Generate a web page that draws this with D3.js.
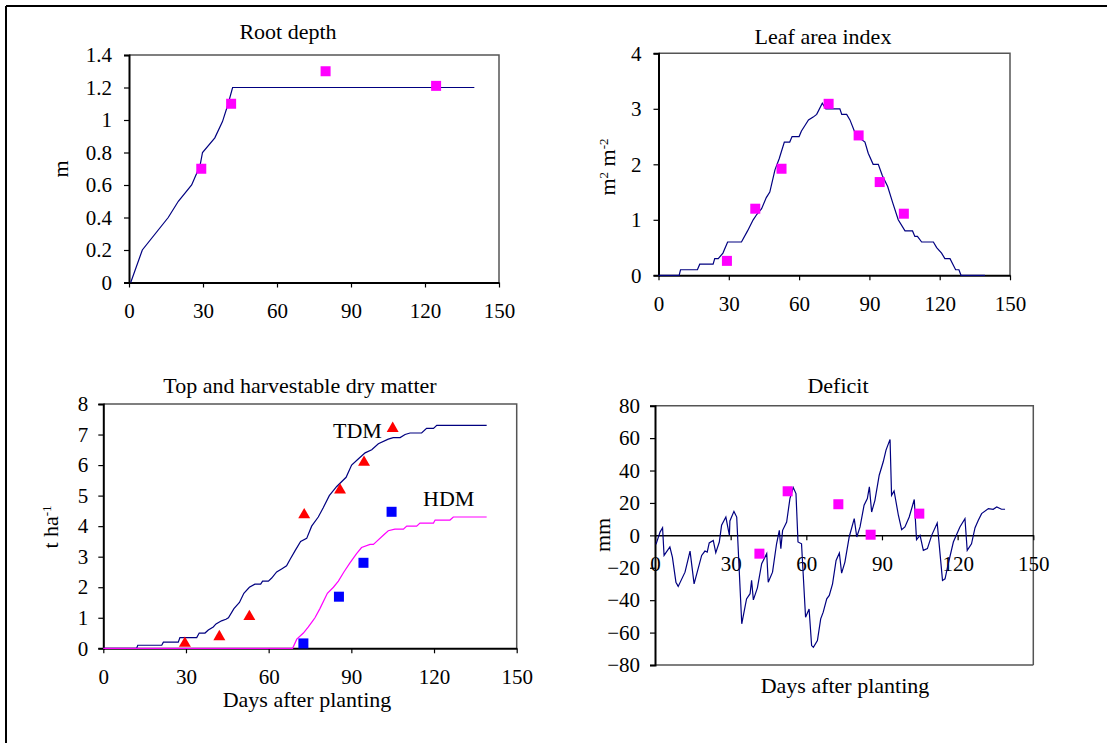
<!DOCTYPE html>
<html><head><meta charset="utf-8">
<script src="https://cdn.jsdelivr.net/npm/d3@7/dist/d3.min.js"></script>
<style>
html,body{margin:0;padding:0;background:#fff;}
svg{display:block;}
text{font-family:"Liberation Serif","Times New Roman",serif;fill:#000;}
</style></head>
<body>
<svg id="chart" width="1107" height="743"></svg>
<script>
// ---------- DATA ----------
const xTicks = [0, 30, 60, 90, 120, 150];

// Root depth (m)
const rootSimDays = [0.7, 5.4, 15.9, 20, 25.4, 28.8, 29.8, 34.8, 37.9, 40.2, 42, 140];
const rootSimVals = [0, 0.2, 0.4, 0.5, 0.6, 0.72, 0.8, 0.89, 0.99, 1.1, 1.2, 1.2];
const rootObsDays = [29.3, 41.4, 79.7, 124.5];
const rootObsVals = [0.70, 1.10, 1.30, 1.21];
const rootYTicks = [0, 0.2, 0.4, 0.6, 0.8, 1, 1.2, 1.4];

// Leaf area index (m2 m-2)
const laiSimDays = [0, 8.8, 9.4, 16.6, 17.6, 23.3, 24, 25.5, 27.5, 29.5, 35.4, 38, 40.4, 42, 44, 46, 47.5, 49.7, 51.5, 53.7, 56, 57, 60, 61, 62.5, 64, 66, 67.5, 69.9, 71.4, 77.4, 78.2, 80.3, 81.7, 84.5, 86.5, 88.1, 89.5, 91.6, 93.8, 95.5, 97.8, 100, 102.3, 105.2, 108.4, 109.4, 110.5, 112.3, 117.3, 118.7, 120.8, 122.2, 124.4, 126.8, 128.2, 129.1, 139.3];
const laiSimVals = [0, 0, 0.1, 0.1, 0.2, 0.2, 0.3, 0.3, 0.4, 0.6, 0.6, 0.8, 1.0, 1.1, 1.2, 1.4, 1.5, 1.9, 2.1, 2.4, 2.4, 2.5, 2.5, 2.6, 2.7, 2.8, 2.85, 2.9, 3.1, 3.0, 3.0, 2.9, 2.9, 2.8, 2.5, 2.45, 2.4, 2.2, 2.0, 2.0, 1.8, 1.6, 1.3, 1.0, 0.8, 0.8, 0.7, 0.7, 0.6, 0.6, 0.5, 0.4, 0.3, 0.3, 0.1, 0.1, 0, 0];
const laiObsDays = [29.2, 41.3, 52.5, 72.6, 85.4, 94.4, 104.7];
const laiObsVals = [0.26, 1.2, 1.92, 3.09, 2.52, 1.68, 1.11];
const laiYTicks = [0, 1, 2, 3, 4];

// Top (TDM) and harvestable (HDM) dry matter (t ha-1)
const tdmSimDays = [0, 12.1, 12.5, 21.2, 21.8, 27.2, 27.8, 33.9, 34.8, 36.9, 38.1, 39.9, 40.9, 42.9, 44.5, 45.4, 47.4, 49.4, 51, 53, 55, 57.1, 57.8, 59.9, 61.1, 62.9, 64.7, 66.5, 67.7, 69.6, 71.6, 73.8, 75.6, 78, 79.8, 82, 84.7, 88.1, 90.1, 92.5, 95, 97.4, 99.8, 103.4, 105.2, 107.7, 109.5, 111.3, 115.5, 117.3, 119.8, 121, 139.1];
const tdmSimVals = [0, 0, 0.1, 0.1, 0.2, 0.2, 0.35, 0.35, 0.5, 0.5, 0.6, 0.7, 0.8, 0.9, 0.95, 1.0, 1.3, 1.5, 1.8, 2.0, 2.1, 2.1, 2.2, 2.2, 2.3, 2.5, 2.6, 2.7, 2.9, 3.2, 3.5, 3.6, 4.0, 4.3, 4.6, 5.0, 5.3, 5.6, 6.0, 6.2, 6.4, 6.5, 6.7, 6.85, 6.9, 6.9, 7.0, 7.05, 7.05, 7.2, 7.2, 7.3, 7.3];
const hdmSimDays = [0, 68.7, 70.2, 72.6, 74.4, 76, 76.8, 78.6, 81.3, 83.5, 85.3, 87.3, 89.5, 91.9, 93.7, 96.8, 98, 99.2, 101.6, 103.4, 105.8, 108.9, 110.1, 113.7, 114.9, 119.8, 120.4, 125.8, 127, 139.1];
const hdmSimVals = [0, 0, 0.3, 0.5, 0.7, 0.9, 1.0, 1.3, 1.8, 2.0, 2.2, 2.5, 2.8, 3.1, 3.3, 3.4, 3.4, 3.5, 3.7, 3.85, 3.9, 3.9, 4.0, 4.0, 4.1, 4.1, 4.2, 4.2, 4.3, 4.3];
const tdmObsDays = [29.6, 42.1, 53, 72.9, 85.9, 94.6, 105];
const tdmObsVals = [0.16, 0.38, 1.04, 4.37, 5.18, 6.09, 7.2];
const hdmObsDays = [72.6, 85.5, 94.4, 104.6];
const hdmObsVals = [0.16, 1.69, 2.8, 4.47];
const dmYTicks = [0, 1, 2, 3, 4, 5, 6, 7, 8];

// Deficit (mm)
const defSimDays = [0.4, 2, 3, 3.6, 5.9, 6.9, 8.3, 9.2, 11.9, 13.9, 15.5, 18.5, 19.8, 20.7, 21.5, 23.1, 24.1, 25.5, 26.4, 28.1, 29.5, 29.7, 31.3, 32.4, 34.4, 36.3, 37.7, 38.3, 39, 40.6, 42.3, 44.3, 44.9, 46.6, 48.2, 49.3, 49.9, 50.6, 52.2, 53.5, 54.8, 55.9, 56.7, 58.1, 59.7, 61.1, 62.1, 62.8, 64.4, 65.7, 66.7, 68.1, 69.1, 70.4, 71.8, 73.1, 74, 75.3, 77, 79, 80, 81.3, 82.9, 84.2, 85, 85.9, 87.2, 88.9, 90.5, 91.6, 93.2, 93.8, 94.8, 96.5, 97.8, 99.1, 100.8, 102.8, 103.7, 105.1, 106.4, 108, 109.7, 111.9, 114, 115, 116.3, 118.3, 120.9, 122.9, 123.8, 125.5, 126.9, 128.2, 129.5, 132.2, 134.1, 135.5, 137.4, 138.8];
const defSimVals = [-5.6, 2, 4.7, -12.4, -7.2, -13.4, -28.9, -31.5, -22.7, -9.7, -29.9, -12.4, -9.7, -10.3, -4.7, -3.1, -10.7, -4.1, 6.2, 11.3, 0, 8.9, 14.8, 11.3, -54.6, -39.2, -36, -27.8, -39.8, -32.4, -17.5, -11.3, -28.9, -22.7, -5.2, 3.1, -8.2, 3.1, 8.2, 22.7, 29.5, 25.8, -4.1, -5.2, -50.5, -45.4, -68, -69.1, -64.9, -51.5, -47.4, -39.2, -37.1, -29.9, -15.5, -10.9, -23.3, -16.5, -1, 10.3, -1, 5.2, 18.6, 22.7, 29.9, 14.4, 21.6, 37.1, 45.4, 52.6, 59.2, 24.7, 27.4, 12.4, 3.5, 5.2, 11.3, 22.1, -2.7, 0, -9.3, -8.2, 0, 7.6, -27.8, -26.8, -17.5, -4.1, 5.2, 10.3, -9.3, -5.2, 4.7, 9.3, 13.4, 16.5, 16.1, 17.5, 16.1, 16.1];
const defObsDays = [41.4, 52.6, 72.7, 85.5, 104.8];
const defObsVals = [-11.3, 27.2, 19.2, 0.4, 13.4];
const defYTicks = [-80, -60, -40, -20, 0, 20, 40, 60, 80];

// ---------- DRAWING ----------
const svg = d3.select("#chart");
const FONT = "'Liberation Serif', 'Times New Roman', Times, serif";
const FS = 21;   // tick labels
const FT = 22;   // titles and axis labels
const NAVY = "#000080", MAG = "#FF00FF", RED = "#FF0000", BLUE = "#0000FF";

// outer frame (left and top edges visible)
svg.append("line").attr("x1", 6).attr("y1", 6).attr("x2", 1107).attr("y2", 6).attr("stroke", "#000").attr("stroke-width", 2);
svg.append("line").attr("x1", 6).attr("y1", 6).attr("x2", 6).attr("y2", 743).attr("stroke", "#000").attr("stroke-width", 2);

function zip(a, b) { return a.map((d, i) => [d, b[i]]); }

function panel(cfg) {
  const x = d3.scaleLinear().domain([0, 150]).range([cfg.x0, cfg.x1]);
  const y = d3.scaleLinear().domain(cfg.yDomain).range([cfg.y0, cfg.y1]);
  const g = svg.append("g");
  // plot-area border (top & right)
  g.append("path")
    .attr("d", `M${cfg.x0},${cfg.y1}H${cfg.x1}V${cfg.y0}`)
    .attr("fill", "none").attr("stroke", "#555").attr("stroke-width", 1.5);
  if (cfg.bottomBorder) {
    g.append("line").attr("x1", cfg.x0).attr("x2", cfg.x1).attr("y1", cfg.y0).attr("y2", cfg.y0)
      .attr("stroke", "#555").attr("stroke-width", 1.5);
  }
  // y axis
  const ya = g.append("g").attr("transform", `translate(${cfg.x0},0)`)
    .call(d3.axisLeft(y).tickValues(cfg.yTicks).tickSize(5).tickPadding(cfg.yPad).tickFormat(d3.format("~g")));
  ya.attr("font-family", FONT).attr("font-size", FS);
  ya.select(".domain").attr("stroke", "#000").attr("stroke-width", 2);
  ya.selectAll(".tick line").attr("stroke", "#000").attr("stroke-width", 1.2);
  // x axis
  const xAxisY = y(cfg.xAxisAt);
  const xa = g.append("g").attr("transform", `translate(0,${xAxisY})`)
    .call(d3.axisBottom(x).tickValues(xTicks).tickSize(5).tickPadding(16).tickSizeOuter(0));
  xa.attr("font-family", FONT).attr("font-size", FS);
  xa.select(".domain").attr("stroke", "#000").attr("stroke-width", cfg.xAxisW || 2);
  xa.selectAll(".tick line").attr("stroke", "#000").attr("stroke-width", 1.2);
  // title
  svg.append("text").attr("x", cfg.titleX).attr("y", cfg.titleY).attr("text-anchor", "middle")
    .attr("font-size", FT).text(cfg.title);
  return { x, y, g };
}

const line = (p) => d3.line().x(d => p.x(d[0])).y(d => p.y(d[1]));

function squares(p, days, vals, color, size) {
  p.g.selectAll(null).data(zip(days, vals)).enter().append("rect")
    .attr("x", d => p.x(d[0]) - size / 2).attr("y", d => p.y(d[1]) - size / 2)
    .attr("width", size).attr("height", size).attr("fill", color);
}
function triangles(p, days, vals, color) {
  const sym = d3.symbol().type(d3.symbolTriangle).size(62);
  p.g.selectAll(null).data(zip(days, vals)).enter().append("path")
    .attr("d", sym).attr("transform", d => `translate(${p.x(d[0])},${p.y(d[1])})`).attr("fill", color);
}
function ylabel(x, y, parts) {
  const t = svg.append("text").attr("transform", `translate(${x},${y}) rotate(-90)`)
    .attr("text-anchor", "middle").attr("font-size", FT);
  parts.forEach(p => {
    const ts = t.append("tspan").text(p.t);
    if (p.sup) ts.attr("font-size", 13).attr("baseline-shift", "super");
  });
}

// Panel A: Root depth
const pA = panel({ x0: 129, x1: 499, y0: 282.5, y1: 55, yDomain: [0, 1.4], yTicks: rootYTicks, yPad: 12, xAxisAt: 0,
  title: "Root depth", titleX: 288, titleY: 39 });
pA.g.append("path").datum(zip(rootSimDays, rootSimVals)).attr("d", line(pA)).attr("fill", "none").attr("stroke", NAVY).attr("stroke-width", 1.2);
squares(pA, rootObsDays, rootObsVals, MAG, 10);
ylabel(68, 169, [{ t: "m" }]);

// Panel B: Leaf area index
const pB = panel({ x0: 658.5, x1: 1010, y0: 275.3, y1: 53.3, yDomain: [0, 4], yTicks: laiYTicks, yPad: 12, xAxisAt: 0,
  title: "Leaf area index", titleX: 823, titleY: 44 });
pB.g.append("path").datum(zip(laiSimDays, laiSimVals)).attr("d", line(pB)).attr("fill", "none").attr("stroke", NAVY).attr("stroke-width", 1.2);
squares(pB, laiObsDays, laiObsVals, MAG, 10);
ylabel(615, 167, [{ t: "m" }, { t: "2", sup: true }, { t: " m" }, { t: "-2", sup: true }]);

// Panel C: Dry matter
const pC = panel({ x0: 103.3, x1: 516.7, y0: 648.3, y1: 404, yDomain: [0, 8], yTicks: dmYTicks, yPad: 10, xAxisAt: 0,
  title: "Top and harvestable dry matter", titleX: 300, titleY: 393 });
pC.g.append("path").datum(zip(tdmSimDays, tdmSimVals)).attr("d", line(pC)).attr("fill", "none").attr("stroke", NAVY).attr("stroke-width", 1.2);
pC.g.append("path").datum(zip(hdmSimDays, hdmSimVals)).attr("d", line(pC)).attr("fill", "none").attr("stroke", MAG).attr("stroke-width", 1.2);
triangles(pC, tdmObsDays, tdmObsVals, RED);
squares(pC, hdmObsDays, hdmObsVals, BLUE, 10);
svg.append("text").attr("x", 333).attr("y", 438).attr("font-size", FT).text("TDM");
svg.append("text").attr("x", 423).attr("y", 506).attr("font-size", FT).text("HDM");
svg.append("text").attr("x", 307).attr("y", 707).attr("text-anchor", "middle").attr("font-size", FT).text("Days after planting");
ylabel(58, 527, [{ t: "t ha" }, { t: "-1", sup: true }]);

// Panel D: Deficit
const pD = panel({ x0: 655, x1: 1033.3, y0: 665, y1: 405.7, yDomain: [-80, 80], yTicks: defYTicks, yPad: 10, xAxisAt: 0, xAxisW: 1.5,
  bottomBorder: true, title: "Deficit", titleX: 838, titleY: 393 });
pD.g.append("path").datum(zip(defSimDays, defSimVals)).attr("d", line(pD)).attr("fill", "none").attr("stroke", NAVY).attr("stroke-width", 1.2);
squares(pD, defObsDays, defObsVals, MAG, 10);
svg.append("text").attr("x", 845).attr("y", 693).attr("text-anchor", "middle").attr("font-size", FT).text("Days after planting");
ylabel(610, 535, [{ t: "mm" }]);

// ensure serif font on all texts
svg.selectAll("text").attr("font-family", FONT);
</script>
</body></html>
